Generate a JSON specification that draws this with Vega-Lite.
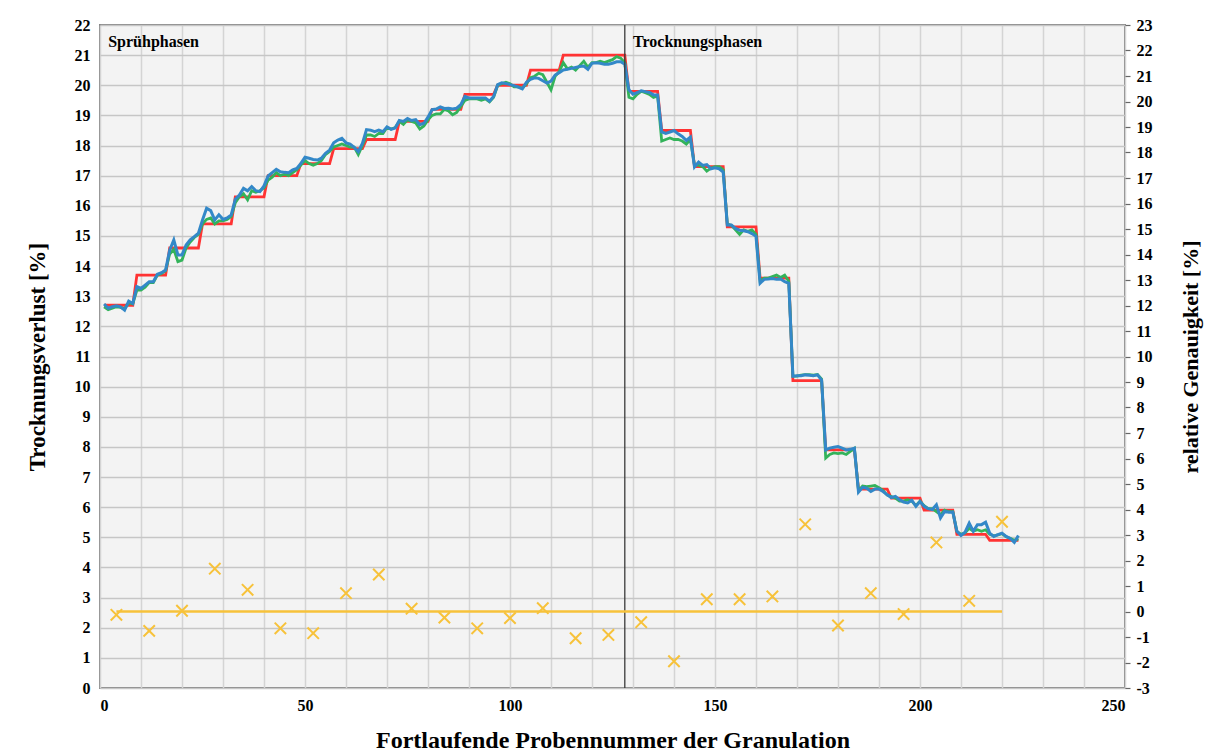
{
"$schema": "https://vega.github.io/schema/vega-lite/v6.json",
"autosize": "none",
"width": 1025,
"height": 663,
"padding": {"left": 100, "top": 25, "right": 87, "bottom": 68},
"background": "#ffffff",
"datasets": {
"samples": [
{"n":1,"ref":12.7,"g":12.65,"b":12.74},{"n":2,"ref":12.7,"g":12.55,"b":12.6},{"n":3,"ref":12.7,"g":12.6,"b":12.65},{"n":4,"ref":12.7,"g":12.65,"b":12.68},{"n":5,"ref":12.7,"g":12.63,"b":12.65},{"n":6,"ref":12.7,"g":12.58,"b":12.54},{"n":7,"ref":12.7,"g":12.78,"b":12.84},{"n":8,"ref":12.7,"g":12.75,"b":12.76},
{"n":9,"ref":13.7,"g":13.2,"b":13.32},{"n":10,"ref":13.7,"g":13.2,"b":13.26},{"n":11,"ref":13.7,"g":13.3,"b":13.37},{"n":12,"ref":13.7,"g":13.45,"b":13.48},{"n":13,"ref":13.7,"g":13.45,"b":13.48},{"n":14,"ref":13.7,"g":13.7,"b":13.73},{"n":15,"ref":13.7,"g":13.75,"b":13.78},{"n":16,"ref":13.7,"g":13.85,"b":13.87},
{"n":17,"ref":14.6,"g":14.4,"b":14.53},{"n":18,"ref":14.6,"g":14.55,"b":14.87},{"n":19,"ref":14.6,"g":14.15,"b":14.37},{"n":20,"ref":14.6,"g":14.2,"b":14.37},{"n":21,"ref":14.6,"g":14.6,"b":14.7},{"n":22,"ref":14.6,"g":14.8,"b":14.87},{"n":23,"ref":14.6,"g":14.95,"b":14.98},{"n":24,"ref":14.6,"g":15.05,"b":15.09},
{"n":25,"ref":15.4,"g":15.4,"b":15.53},{"n":26,"ref":15.4,"g":15.55,"b":15.92},{"n":27,"ref":15.4,"g":15.6,"b":15.84},{"n":28,"ref":15.4,"g":15.4,"b":15.53},{"n":29,"ref":15.4,"g":15.5,"b":15.7},{"n":30,"ref":15.4,"g":15.5,"b":15.55},{"n":31,"ref":15.4,"g":15.55,"b":15.6},{"n":32,"ref":15.4,"g":15.65,"b":15.7},
{"n":33,"ref":16.3,"g":16.1,"b":16.22},{"n":34,"ref":16.3,"g":16.3,"b":16.36},{"n":35,"ref":16.3,"g":16.4,"b":16.58},{"n":36,"ref":16.3,"g":16.2,"b":16.5},{"n":37,"ref":16.3,"g":16.5,"b":16.64},{"n":38,"ref":16.3,"g":16.45,"b":16.5},{"n":39,"ref":16.3,"g":16.5,"b":16.47},{"n":40,"ref":16.3,"g":16.6,"b":16.66},
{"n":41,"ref":17.0,"g":16.85,"b":16.99},{"n":42,"ref":17.0,"g":16.95,"b":17.1},{"n":43,"ref":17.0,"g":17.1,"b":17.21},{"n":44,"ref":17.0,"g":17.0,"b":17.13},{"n":45,"ref":17.0,"g":17.05,"b":17.11},{"n":46,"ref":17.0,"g":17.0,"b":17.1},{"n":47,"ref":17.0,"g":17.1,"b":17.19},{"n":48,"ref":17.0,"g":17.2,"b":17.24},
{"n":49,"ref":17.4,"g":17.35,"b":17.41},{"n":50,"ref":17.4,"g":17.5,"b":17.61},{"n":51,"ref":17.4,"g":17.4,"b":17.58},{"n":52,"ref":17.4,"g":17.35,"b":17.54},{"n":53,"ref":17.4,"g":17.4,"b":17.52},{"n":54,"ref":17.4,"g":17.5,"b":17.58},{"n":55,"ref":17.4,"g":17.7,"b":17.74},{"n":56,"ref":17.4,"g":17.8,"b":17.85},
{"n":57,"ref":17.9,"g":17.95,"b":18.09},{"n":58,"ref":17.9,"g":18.0,"b":18.18},{"n":59,"ref":17.9,"g":18.05,"b":18.24},{"n":60,"ref":17.9,"g":18.0,"b":18.09},{"n":61,"ref":17.9,"g":17.95,"b":18.05},{"n":62,"ref":17.9,"g":17.95,"b":17.94},{"n":63,"ref":17.9,"g":17.7,"b":17.8},{"n":64,"ref":17.9,"g":18.0,"b":18.07},
{"n":65,"ref":18.2,"g":18.35,"b":18.53},{"n":66,"ref":18.2,"g":18.35,"b":18.51},{"n":67,"ref":18.2,"g":18.3,"b":18.46},{"n":68,"ref":18.2,"g":18.4,"b":18.51},{"n":69,"ref":18.2,"g":18.4,"b":18.46},{"n":70,"ref":18.2,"g":18.6,"b":18.62},{"n":71,"ref":18.2,"g":18.55,"b":18.54},{"n":72,"ref":18.2,"g":18.6,"b":18.58},
{"n":73,"ref":18.8,"g":18.8,"b":18.83},{"n":74,"ref":18.8,"g":18.7,"b":18.8},{"n":75,"ref":18.8,"g":18.85,"b":18.9},{"n":76,"ref":18.8,"g":18.8,"b":18.83},{"n":77,"ref":18.8,"g":18.75,"b":18.86},{"n":78,"ref":18.8,"g":18.55,"b":18.69},{"n":79,"ref":18.8,"g":18.65,"b":18.74},{"n":80,"ref":18.8,"g":18.85,"b":18.94},
{"n":81,"ref":19.2,"g":19.0,"b":19.19},{"n":82,"ref":19.2,"g":19.05,"b":19.21},{"n":83,"ref":19.2,"g":19.05,"b":19.28},{"n":84,"ref":19.2,"g":19.2,"b":19.23},{"n":85,"ref":19.2,"g":19.15,"b":19.24},{"n":86,"ref":19.2,"g":19.02,"b":19.21},{"n":87,"ref":19.2,"g":19.1,"b":19.24},{"n":88,"ref":19.2,"g":19.3,"b":19.36},
{"n":89,"ref":19.7,"g":19.5,"b":19.63},{"n":90,"ref":19.7,"g":19.55,"b":19.58},{"n":91,"ref":19.7,"g":19.55,"b":19.58},{"n":92,"ref":19.7,"g":19.55,"b":19.58},{"n":93,"ref":19.7,"g":19.5,"b":19.58},{"n":94,"ref":19.7,"g":19.55,"b":19.58},{"n":95,"ref":19.7,"g":19.45,"b":19.47},{"n":96,"ref":19.7,"g":19.6,"b":19.63},
{"n":97,"ref":20.0,"g":20.0,"b":20.02},{"n":98,"ref":20.0,"g":20.05,"b":20.08},{"n":99,"ref":20.0,"g":20.1,"b":20.06},{"n":100,"ref":20.0,"g":20.05,"b":20.02},{"n":101,"ref":20.0,"g":19.95,"b":19.99},{"n":102,"ref":20.0,"g":19.95,"b":19.94},{"n":103,"ref":20.0,"g":19.9,"b":19.88},{"n":104,"ref":20.0,"g":20.05,"b":20.1},
{"n":105,"ref":20.5,"g":20.25,"b":20.2},{"n":106,"ref":20.5,"g":20.3,"b":20.25},{"n":107,"ref":20.5,"g":20.4,"b":20.23},{"n":108,"ref":20.5,"g":20.35,"b":20.15},{"n":109,"ref":20.5,"g":20.1,"b":20.07},{"n":110,"ref":20.5,"g":19.85,"b":20.14},{"n":111,"ref":20.5,"g":20.3,"b":20.34},{"n":112,"ref":20.5,"g":20.45,"b":20.42},
{"n":113,"ref":21.0,"g":20.75,"b":20.51},{"n":114,"ref":21.0,"g":20.55,"b":20.53},{"n":115,"ref":21.0,"g":20.6,"b":20.56},{"n":116,"ref":21.0,"g":20.5,"b":20.59},{"n":117,"ref":21.0,"g":20.65,"b":20.62},{"n":118,"ref":21.0,"g":20.8,"b":20.64},{"n":119,"ref":21.0,"g":20.6,"b":20.53},{"n":120,"ref":21.0,"g":20.75,"b":20.73},
{"n":121,"ref":21.0,"g":20.75,"b":20.75},{"n":122,"ref":21.0,"g":20.8,"b":20.73},{"n":123,"ref":21.0,"g":20.75,"b":20.7},{"n":124,"ref":21.0,"g":20.8,"b":20.7},{"n":125,"ref":21.0,"g":20.85,"b":20.73},{"n":126,"ref":21.0,"g":20.95,"b":20.78},{"n":127,"ref":21.0,"g":20.9,"b":20.78},{"n":128,"ref":21.0,"g":20.75,"b":20.7},
{"n":129,"ref":19.8,"g":19.6,"b":19.85},{"n":130,"ref":19.8,"g":19.55,"b":19.7},{"n":131,"ref":19.8,"g":19.7,"b":19.76},{"n":132,"ref":19.8,"g":19.8,"b":19.82},{"n":133,"ref":19.8,"g":19.75,"b":19.79},{"n":134,"ref":19.8,"g":19.7,"b":19.76},{"n":135,"ref":19.8,"g":19.6,"b":19.68},{"n":136,"ref":19.8,"g":19.65,"b":19.68},
{"n":137,"ref":18.5,"g":18.15,"b":18.45},{"n":138,"ref":18.5,"g":18.2,"b":18.4},{"n":139,"ref":18.5,"g":18.25,"b":18.45},{"n":140,"ref":18.5,"g":18.2,"b":18.5},{"n":141,"ref":18.5,"g":18.2,"b":18.39},{"n":142,"ref":18.5,"g":18.15,"b":18.3},{"n":143,"ref":18.5,"g":18.05,"b":18.17},{"n":144,"ref":18.5,"g":18.2,"b":18.28},
{"n":145,"ref":17.3,"g":17.35,"b":17.29},{"n":146,"ref":17.3,"g":17.35,"b":17.45},{"n":147,"ref":17.3,"g":17.3,"b":17.34},{"n":148,"ref":17.3,"g":17.15,"b":17.37},{"n":149,"ref":17.3,"g":17.25,"b":17.23},{"n":150,"ref":17.3,"g":17.3,"b":17.26},{"n":151,"ref":17.3,"g":17.3,"b":17.23},{"n":152,"ref":17.3,"g":17.2,"b":17.12},
{"n":153,"ref":15.3,"g":15.4,"b":15.36},{"n":154,"ref":15.3,"g":15.35,"b":15.36},{"n":155,"ref":15.3,"g":15.2,"b":15.25},{"n":156,"ref":15.3,"g":15.05,"b":15.19},{"n":157,"ref":15.3,"g":15.2,"b":15.17},{"n":158,"ref":15.3,"g":15.15,"b":15.14},{"n":159,"ref":15.3,"g":15.2,"b":15.08},{"n":160,"ref":15.3,"g":15.05,"b":14.99},
{"n":161,"ref":13.6,"g":13.5,"b":13.43},{"n":162,"ref":13.6,"g":13.6,"b":13.56},{"n":163,"ref":13.6,"g":13.6,"b":13.57},{"n":164,"ref":13.6,"g":13.65,"b":13.59},{"n":165,"ref":13.6,"g":13.7,"b":13.56},{"n":166,"ref":13.6,"g":13.62,"b":13.57},{"n":167,"ref":13.6,"g":13.7,"b":13.48},{"n":168,"ref":13.6,"g":13.5,"b":13.43},
{"n":169,"ref":10.2,"g":10.35,"b":10.34},{"n":170,"ref":10.2,"g":10.35,"b":10.36},{"n":171,"ref":10.2,"g":10.38,"b":10.36},{"n":172,"ref":10.2,"g":10.4,"b":10.39},{"n":173,"ref":10.2,"g":10.4,"b":10.38},{"n":174,"ref":10.2,"g":10.38,"b":10.36},{"n":175,"ref":10.2,"g":10.4,"b":10.39},{"n":176,"ref":10.2,"g":10.25,"b":10.22},
{"n":177,"ref":7.9,"g":7.63,"b":7.9},{"n":178,"ref":7.9,"g":7.75,"b":7.96},{"n":179,"ref":7.9,"g":7.8,"b":7.99},{"n":180,"ref":7.9,"g":7.78,"b":8.01},{"n":181,"ref":7.9,"g":7.8,"b":7.96},{"n":182,"ref":7.9,"g":7.75,"b":7.9},{"n":183,"ref":7.9,"g":7.85,"b":7.92},{"n":184,"ref":7.9,"g":7.95,"b":7.96},
{"n":185,"ref":6.6,"g":6.55,"b":6.5},{"n":186,"ref":6.6,"g":6.7,"b":6.66},{"n":187,"ref":6.6,"g":6.68,"b":6.63},{"n":188,"ref":6.6,"g":6.7,"b":6.52},{"n":189,"ref":6.6,"g":6.72,"b":6.6},{"n":190,"ref":6.6,"g":6.65,"b":6.6},{"n":191,"ref":6.6,"g":6.55,"b":6.52},{"n":192,"ref":6.6,"g":6.4,"b":6.41},
{"n":193,"ref":6.3,"g":6.35,"b":6.32},{"n":194,"ref":6.3,"g":6.3,"b":6.36},{"n":195,"ref":6.3,"g":6.2,"b":6.25},{"n":196,"ref":6.3,"g":6.2,"b":6.17},{"n":197,"ref":6.3,"g":6.25,"b":6.14},{"n":198,"ref":6.3,"g":6.2,"b":6.23},{"n":199,"ref":6.3,"g":6.05,"b":6.03},{"n":200,"ref":6.3,"g":6.2,"b":6.19},
{"n":201,"ref":5.9,"g":6.05,"b":6.03},{"n":202,"ref":5.9,"g":5.95,"b":5.95},{"n":203,"ref":5.9,"g":5.95,"b":5.92},{"n":204,"ref":5.9,"g":5.85,"b":6.08},{"n":205,"ref":5.9,"g":5.75,"b":5.64},{"n":206,"ref":5.9,"g":5.9,"b":5.86},{"n":207,"ref":5.9,"g":5.85,"b":5.83},{"n":208,"ref":5.9,"g":5.85,"b":5.84},
{"n":209,"ref":5.1,"g":5.2,"b":5.2},{"n":210,"ref":5.1,"g":5.1,"b":5.06},{"n":211,"ref":5.1,"g":5.15,"b":5.17},{"n":212,"ref":5.1,"g":5.3,"b":5.47},{"n":213,"ref":5.1,"g":5.2,"b":5.2},{"n":214,"ref":5.1,"g":5.25,"b":5.42},{"n":215,"ref":5.1,"g":5.2,"b":5.42},{"n":216,"ref":5.1,"g":5.25,"b":5.5},
{"n":217,"ref":4.9,"g":5.1,"b":5.14},{"n":218,"ref":4.9,"g":5.05,"b":5.03},{"n":219,"ref":4.9,"g":5.08,"b":5.09},{"n":220,"ref":4.9,"g":5.12,"b":5.14},{"n":221,"ref":4.9,"g":5.02,"b":5.03},{"n":222,"ref":4.9,"g":4.97,"b":4.96},{"n":223,"ref":4.9,"g":4.9,"b":4.83},{"n":224,"ref":4.9,"g":4.95,"b":5.06}
],
"accuracy": [
{"n":4,"acc":-0.13},{"n":12,"acc":-0.76},{"n":20,"acc":0.03},{"n":28,"acc":1.68},{"n":36,"acc":0.85},{"n":44,"acc":-0.66},{"n":52,"acc":-0.85},{"n":60,"acc":0.72},{"n":68,"acc":1.45},{"n":76,"acc":0.11},{"n":84,"acc":-0.24},{"n":92,"acc":-0.66},{"n":100,"acc":-0.26},{"n":108,"acc":0.13},{"n":116,"acc":-1.05},{"n":124,"acc":-0.92},{"n":132,"acc":-0.42},{"n":140,"acc":-1.95},{"n":148,"acc":0.48},{"n":156,"acc":0.48},{"n":164,"acc":0.59},{"n":172,"acc":3.42},{"n":180,"acc":-0.55},{"n":188,"acc":0.72},{"n":196,"acc":-0.10},{"n":204,"acc":2.71},{"n":212,"acc":0.42},{"n":220,"acc":3.52}
]
},
"layer": [
{
"layer": [
{
"data": {"name": "samples"},
"mark": {"type": "line", "color": "#ff3333", "strokeWidth": 2.8},
"encoding": {
"x": {"field": "n", "type": "quantitative", "scale": {"domain": [0, 250], "nice": false, "zero": false},
"title": "Fortlaufende Probennummer der Granulation",
"axis": {"values": [0,10,20,30,40,50,60,70,80,90,100,110,120,130,140,150,160,170,180,190,200,210,220,230,240,250],
"tickCount": 40, "format": "d", "labelExpr": "datum.value % 50 === 0 ? datum.label : ''", "labelFont": "Liberation Serif"}},
"y": {"field": "ref", "type": "quantitative", "scale": {"domain": [0, 22], "nice": false},
"title": "Trocknungsverlust [%]",
"axis": {"values": [0,1,2,3,4,5,6,7,8,9,10,11,12,13,14,15,16,17,18,19,20,21,22], "tickCount": 40, "format": "d", "labelOverlap": false, "labelFont": "Liberation Serif"}}
}
},
{
"data": {"name": "samples"},
"mark": {"type": "line", "color": "#33b35a", "strokeWidth": 2.8},
"encoding": {
"x": {"field": "n", "type": "quantitative", "title": "Fortlaufende Probennummer der Granulation"},
"y": {"field": "g", "type": "quantitative", "title": "Trocknungsverlust [%]"}
}
},
{
"data": {"name": "samples"},
"mark": {"type": "line", "color": "#3388c8", "strokeWidth": 3},
"encoding": {
"x": {"field": "n", "type": "quantitative", "title": "Fortlaufende Probennummer der Granulation"},
"y": {"field": "b", "type": "quantitative", "title": "Trocknungsverlust [%]"}
}
},
{
"data": {"values": [{}]},
"mark": {"type": "rule", "color": "#3a3a3a", "strokeWidth": 1.3},
"encoding": {"x": {"datum": 128, "type": "quantitative"}}
},
{
"data": {"values": [{}]},
"mark": {"type": "text", "text": "Sprühphasen", "align": "left", "baseline": "middle", "font": "Liberation Serif", "fontWeight": "bold", "fontSize": 16, "color": "#000000"},
"encoding": {"x": {"datum": 2, "type": "quantitative"}, "y": {"datum": 21.43, "type": "quantitative"}}
},
{
"data": {"values": [{}]},
"mark": {"type": "text", "text": "Trocknungsphasen", "align": "left", "baseline": "middle", "font": "Liberation Serif", "fontWeight": "bold", "fontSize": 16, "color": "#000000"},
"encoding": {"x": {"datum": 130, "type": "quantitative"}, "y": {"datum": 21.43, "type": "quantitative"}}
}
]
},
{
"layer": [
{
"data": {"values": [{}]},
"mark": {"type": "rule", "color": "#f7c23a", "strokeWidth": 2.5},
"encoding": {
"x": {"datum": 4, "type": "quantitative"},
"x2": {"datum": 220},
"y": {"datum": 0, "type": "quantitative"}
}
},
{
"data": {"name": "accuracy"},
"mark": {"type": "point", "shape": "M-1,-1L1,1M-1,1L1,-1", "filled": false, "stroke": "#f7c23a", "strokeWidth": 2, "size": 130, "opacity": 1},
"encoding": {
"x": {"field": "n", "type": "quantitative", "title": "Fortlaufende Probennummer der Granulation"},
"y": {"field": "acc", "type": "quantitative", "scale": {"domain": [-3, 23], "nice": false, "zero": false},
"title": "relative Genauigkeit [%]",
"axis": {"orient": "right", "values": [-3,-2,-1,0,1,2,3,4,5,6,7,8,9,10,11,12,13,14,15,16,17,18,19,20,21,22,23], "tickCount": 40, "format": "d",
"labelExpr": "replace(datum.label, '\u2212', '-')", "labelOverlap": false, "labelFont": "Liberation Serif"}}
}
}
]
}
],
"resolve": {"scale": {"y": "independent"}},
"config": {
"font": "Liberation Serif",
"view": {"fill": "#f3f3f3", "stroke": "#858585", "strokeWidth": 2},
"axis": {"labelFont": "Liberation Serif", "labelFontWeight": "bold", "labelFontSize": 16, "labelColor": "#000000", "labelOverlap": false, "labelSeparation": 0,
"titleFont": "Liberation Serif", "titleFontWeight": "bold", "titleColor": "#000000"},
"axisBottom": {"grid": true, "gridColor": "#d4d4d4", "gridWidth": 1.5, "ticks": false, "domain": false, "labelPadding": 9, "titleFontSize": 24, "titleY": 52, "titleBaseline": "middle"},
"axisLeft": {"grid": true, "gridColor": "#c6c6c6", "gridWidth": 1.5, "ticks": false, "domain": false, "labelPadding": 10, "titleFontSize": 23,
"titleX": -63, "titleY": 331.5, "titleAngle": 270, "titleAlign": "center", "titleBaseline": "middle"},
"axisRight": {"grid": false, "ticks": true, "tickSize": 5, "tickColor": "#666666", "tickWidth": 1.2, "domain": false, "labelPadding": 6, "titleFontSize": 22,
"titleX": 65, "titleY": 331.5, "titleAngle": 270, "titleAlign": "center", "titleBaseline": "middle"}
}
}
